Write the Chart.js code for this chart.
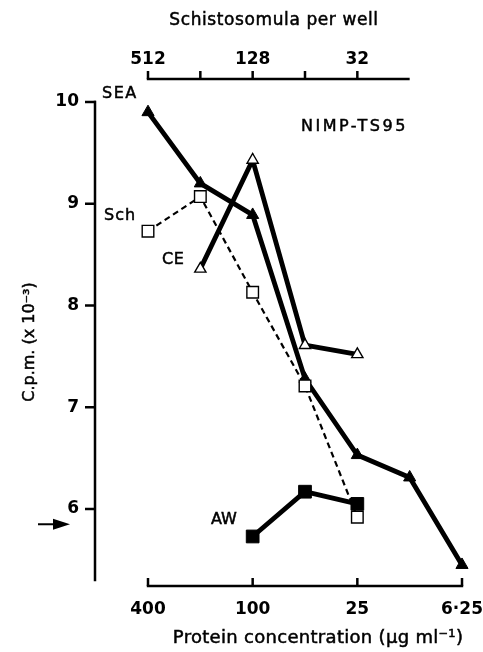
<!DOCTYPE html>
<html>
<head>
<meta charset="utf-8">
<script src="https://cdn.jsdelivr.net/npm/chart.js@4/dist/chart.umd.min.js"></script>
<style>
  html, body { margin: 0; padding: 0; background: #fff; }
  #wrap { width: 483px; height: 652px; position: relative; }
</style>
</head>
<body>
<div id="wrap"><canvas id="chart"></canvas></div>
<script>
// Protein concentration (ug/ml) on the bottom axis
const conc = [400, 200, 100, 50, 25, 12.5, 6.25];
const seaCpm = [9.90, 9.20, 8.89, 7.28, 6.53, 6.31, 5.45];
const ceCpm = [null, 8.36, 9.43, 7.61, 7.52, null, null];
const schCpm = [8.73, 9.07, 8.13, 7.21, 5.92, null, null];
const awCpm = [null, null, 5.73, 6.17, 6.05, null, null];

const bottomTicks = [400, 100, 25, 6.25];
const topTicks = [512, 128, 32];
const topTickMarks = [512, 256, 128, 64, 32];
const topAxisEnd = 16;
const yTicks = [6, 7, 8, 9, 10];
const yAxisBottom = 5.29;
const arrowCpm = 5.85; // arrow on the left axis

// schistosomula per well that line up with the protein concentrations
const wellRatio = 512 / 400;
const concMin = 5.6216;
const concMax = 807.1;

const FONT = "'DejaVu Sans', sans-serif";

const toPoints = (vals) => conc.map((c, i) => ({ x: c, y: vals[i] }));

// axes, arrow and in-plot labels drawn by hand
const decorations = {
  id: "decorations",
  afterDraw(chart) {
    const { ctx, chartArea } = chart;
    const { x, x2, y } = chart.scales;
    const line = (x1, y1, xx, yy) => {
      ctx.beginPath();
      ctx.moveTo(x1, y1);
      ctx.lineTo(xx, yy);
      ctx.stroke();
    };
    // slightly heavier text, like the printed figure
    const text = (str, tx, ty, size, spacing) => {
      ctx.font = size + "px " + FONT;
      ctx.letterSpacing = spacing + "px";
      ctx.lineWidth = 0.5;
      ctx.fillText(str, tx, ty);
      ctx.strokeText(str, tx, ty);
    };
    ctx.save();
    ctx.strokeStyle = "#000";
    ctx.fillStyle = "#000";
    ctx.lineWidth = 2.5;

    // left axis
    const yx = chartArea.left;
    line(yx, y.getPixelForValue(10) - 1.2, yx, y.getPixelForValue(yAxisBottom));
    yTicks.forEach((v) => {
      const py = y.getPixelForValue(v);
      line(yx - 10, py, yx + 1, py);
    });

    // bottom axis
    const by = chartArea.bottom;
    line(x.getPixelForValue(bottomTicks[0]) - 1.2, by,
         x.getPixelForValue(bottomTicks[bottomTicks.length - 1]) + 1.2, by);
    bottomTicks.forEach((v) => {
      const px = x.getPixelForValue(v);
      line(px, by, px, by - 8);
    });

    // top axis
    const ty = chartArea.top;
    line(x2.getPixelForValue(topTickMarks[0]) - 1.2, ty, x2.getPixelForValue(topAxisEnd), ty);
    topTickMarks.forEach((v) => {
      const px = x2.getPixelForValue(v);
      line(px, ty, px, ty - 8);
    });

    // arrow
    const ay = y.getPixelForValue(arrowCpm);
    ctx.lineWidth = 2;
    line(yx - 57, ay, yx - 40, ay);
    ctx.beginPath();
    ctx.moveTo(yx - 25, ay);
    ctx.lineTo(yx - 42, ay - 5.5);
    ctx.lineTo(yx - 42, ay + 5.5);
    ctx.closePath();
    ctx.fill();

    // text
    ctx.textBaseline = "middle";
    ctx.textAlign = "left";
    text("SEA", 102, 94, 16, 1.5);
    text("Sch", 104, 216, 16, 1);
    text("CE", 162, 260, 16, 0.5);
    text("AW", 211, 520, 16, 0);
    text("NIMP-TS95", 301, 127, 16, 2.5);

    ctx.textAlign = "center";
    text("Schistosomula per well", 274, 21, 17, 0.6);
    text("Protein concentration (\u03bcg ml\u207b\u00b9)", 318, 638, 18, 0.3);

    ctx.translate(30, 342);
    ctx.rotate(-Math.PI / 2);
    text("C.p.m. (x 10\u207b\u00b3)", 0, 0, 16, 0);
    ctx.restore();
  },
};

const noPad = (h) => (s) => {
  s.paddingLeft = s.paddingRight = s.paddingTop = s.paddingBottom = 0;
  if (h != null) s.height = h;
};

const tickFont = { family: FONT, size: 17, weight: "bold" };

new Chart(document.getElementById("chart"), {
  type: "line",
  data: {
    datasets: [
      {
        label: "Sch",
        data: toPoints(schCpm),
        borderColor: "#000",
        borderWidth: 2.2,
        borderDash: [6, 4],
        pointStyle: "rect",
        pointRadius: 8.2,
        pointBackgroundColor: "#fff",
        pointBorderColor: "#000",
        pointBorderWidth: 1.4,
      },
      {
        label: "AW",
        data: toPoints(awCpm),
        borderColor: "#000",
        borderWidth: 4.8,
        pointStyle: "rect",
        pointRadius: 9,
        pointBackgroundColor: "#000",
        pointBorderColor: "#000",
        pointBorderWidth: 1,
      },
      {
        label: "CE",
        data: toPoints(ceCpm),
        borderColor: "#000",
        borderWidth: 4.8,
        pointStyle: "triangle",
        pointRadius: 6.5,
        pointBackgroundColor: "#fff",
        pointBorderColor: "#000",
        pointBorderWidth: 1.4,
      },
      {
        label: "SEA",
        data: toPoints(seaCpm),
        borderColor: "#000",
        borderWidth: 4.8,
        pointStyle: "triangle",
        pointRadius: 7,
        pointBackgroundColor: "#000",
        pointBorderColor: "#000",
        pointBorderWidth: 1,
      },
    ],
  },
  options: {
    responsive: true,
    maintainAspectRatio: false,
    animation: false,
    layout: { padding: { left: 0, right: 13, top: 0, bottom: 0 } },
    plugins: { legend: { display: false }, tooltip: { enabled: false } },
    elements: { line: { tension: 0 } },
    scales: {
      x: {
        type: "logarithmic",
        position: "bottom",
        reverse: true,
        min: concMin,
        max: concMax,
        grid: { display: false, drawTicks: false },
        border: { display: false },
        ticks: {
          autoSkip: false,
          maxRotation: 0,
          padding: 13,
          color: "#000",
          font: tickFont,
          callback: (v) => (v === 6.25 ? "6\u00b725" : String(v)),
        },
        afterBuildTicks: (s) => { s.ticks = bottomTicks.map((v) => ({ value: v })); },
        afterFit: noPad(66),
      },
      x2: {
        type: "logarithmic",
        position: "top",
        reverse: true,
        min: concMin * wellRatio,
        max: concMax * wellRatio,
        grid: { display: false, drawTicks: false },
        border: { display: false },
        ticks: {
          autoSkip: false,
          maxRotation: 0,
          padding: 9,
          color: "#000",
          font: tickFont,
          callback: (v) => String(v),
        },
        afterBuildTicks: (s) => { s.ticks = topTicks.map((v) => ({ value: v })); },
        afterFit: noPad(79),
      },
      y: {
        min: 5.2432,
        max: 10.226,
        grid: { display: false, drawTicks: false },
        border: { display: false },
        ticks: {
          stepSize: 1,
          padding: 16,
          color: "#000",
          font: tickFont,
        },
        afterBuildTicks: (s) => { s.ticks = yTicks.map((v) => ({ value: v })); },
        afterFit: (s) => { s.width = 95; s.paddingTop = s.paddingBottom = 0; },
      },
    },
  },
  plugins: [decorations],
});
</script>
</body>
</html>
